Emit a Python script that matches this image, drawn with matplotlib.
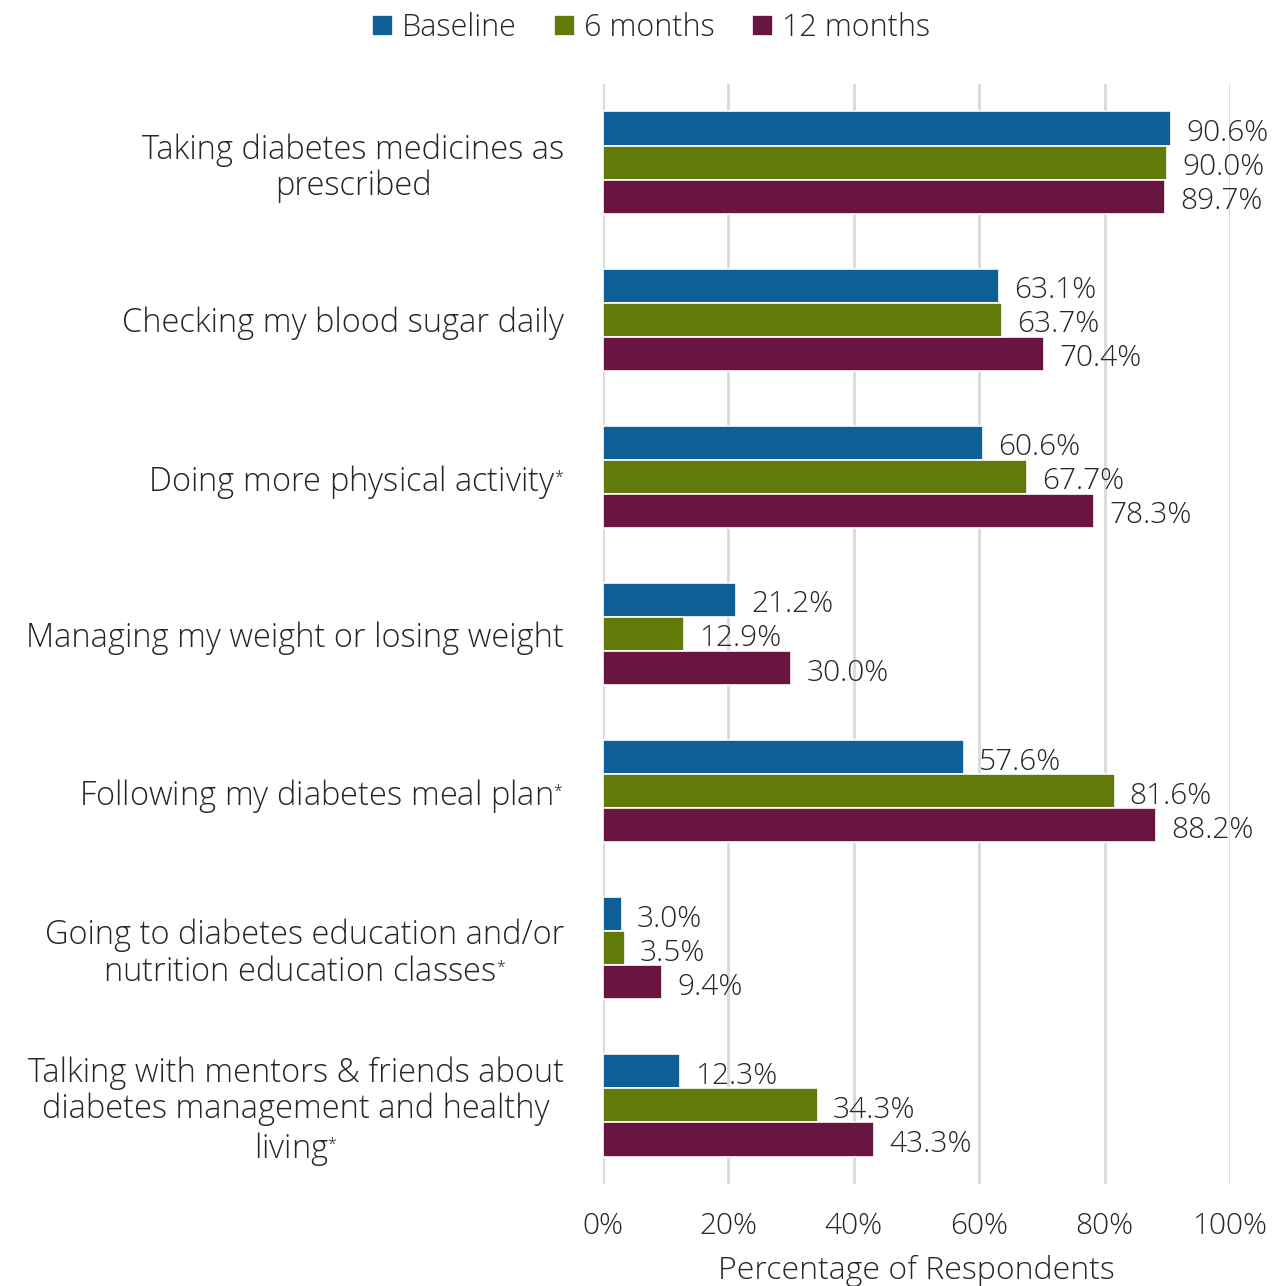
import matplotlib
matplotlib.use("Agg")
import matplotlib.pyplot as plt
import numpy as np

categories = [
    "Taking diabetes medicines as\nprescribed",
    "Checking my blood sugar daily",
    "Doing more physical activity$^{_{*}}$",
    "Managing my weight or losing weight",
    "Following my diabetes meal plan$^{_{*}}$",
    "Going to diabetes education and/or\nnutrition education classes$^{_{*}}$",
    "Talking with mentors & friends about\ndiabetes management and healthy\nliving$^{_{*}}$",
]
series_names = ["Baseline", "6 months", "12 months"]
baseline = [90.6, 63.1, 60.6, 21.2, 57.6, 3.0, 12.3]
six_months = [90.0, 63.7, 67.7, 12.9, 81.6, 3.5, 34.3]
twelve_months = [89.7, 70.4, 78.3, 30.0, 88.2, 9.4, 43.3]
x_ticks = [0, 20, 40, 60, 80, 100]
x_tick_labels = ["0%", "20%", "40%", "60%", "80%", "100%"]

colors = ["#0F5E96", "#617A09", "#6A1541"]
text_color = "#262626"

plt.rcParams['font.family'] = ['Open Sans', 'DejaVu Sans']
plt.rcParams['font.weight'] = 'light'
plt.rcParams['axes.labelweight'] = 'light'
plt.rcParams['mathtext.fontset'] = 'custom'
plt.rcParams['mathtext.rm'] = 'Open Sans'
plt.rcParams['mathtext.it'] = 'Open Sans'

fig = plt.figure(figsize=(12.78, 12.86), dpi=100)
ax = fig.add_axes([603/1278, 1 - 1184/1286, (1230-603)/1278, (1184-84)/1286])

y = np.arange(len(categories))
h = 0.217
data = [baseline, six_months, twelve_months]
offsets = [-h, 0, h]
for vals, off, c, name in zip(data, offsets, colors, series_names):
    ax.barh(y + off, vals, height=h, color=c, edgecolor="white", linewidth=1.2,
            label=name, zorder=3)
    for yy, v in zip(y + off, vals):
        ax.text(v + 2.4, yy + 0.03, f"{v:.1f}%", va="center", ha="left",
                fontsize=21.5, color=text_color, zorder=4)

ax.set_xlim(0, 100)
ax.set_ylim(len(categories) - 0.5, -0.5)
ax.set_xticks(x_ticks)
ax.set_xticklabels(x_tick_labels, fontsize=21.5, color=text_color)
ax.set_yticks(y)
ax.set_yticklabels(categories, fontsize=23.5, color=text_color, multialignment="center",
                   linespacing=1.12)
ax.tick_params(axis="y", length=0, pad=28)
ax.tick_params(axis="x", length=0, pad=20)
ax.grid(axis="x", color="#D9D9D9", linewidth=2, zorder=0)
for s in ax.spines.values():
    s.set_visible(False)
ax.set_xlabel("Percentage of Respondents", fontsize=23, color=text_color, labelpad=10)

handles, labels = ax.get_legend_handles_labels()
fig.legend(handles, labels, loc="center", bbox_to_anchor=(651/1278, 1 - 28/1286),
           ncol=3, frameon=False, fontsize=22, handlelength=0.7, handleheight=0.7,
           handletextpad=0.3, columnspacing=1.2, labelcolor=text_color)

fig.savefig("out.png", dpi=100, facecolor="white")
